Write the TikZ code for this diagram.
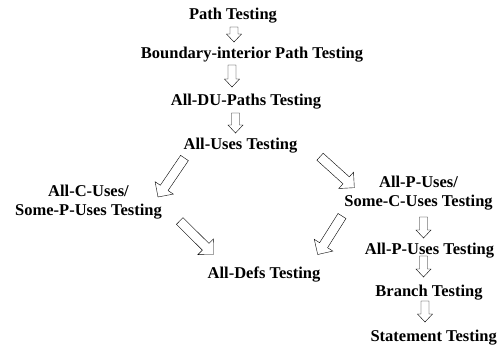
\documentclass[tikz,border=0pt]{standalone}
\usepackage{fontspec}
\setmainfont{Liberation Serif}
\usetikzlibrary{calc}
\tikzset{
  lbl/.style={font=\bfseries\fontsize{16.5}{19}\selectfont, inner sep=0pt, anchor=base, align=center},
  blockarrow/.style n args={3}{line width=0.9pt, line join=miter, to path={
    ($(\tikztostart)!#1!90:(\tikztotarget)$)
    -- ($(\tikztotarget)!#3!(\tikztostart)!#1!-90:(\tikztostart)$)
    -- ($(\tikztotarget)!#3!(\tikztostart)!#2!-90:(\tikztostart)$)
    -- (\tikztotarget)
    -- ($(\tikztotarget)!#3!(\tikztostart)!#2!90:(\tikztostart)$)
    -- ($(\tikztotarget)!#3!(\tikztostart)!#1!90:(\tikztostart)$)
    -- ($(\tikztostart)!#1!-90:(\tikztotarget)$)
    -- cycle}},
  vblock/.style={blockarrow={4pt}{7.5pt}{8pt}},
  dblock/.style={blockarrow={4.7pt}{11pt}{11pt}}
}
\begin{document}
\begin{tikzpicture}[x=1pt,y=-1pt]
\useasboundingbox (0,0) rectangle (500,349);
% labels
\node[lbl] (pt)  at (233,19)    {Path Testing};
\node[lbl] (bip) at (252,58)    {Boundary-interior Path Testing};
\node[lbl] (du)  at (246,105)   {All-DU-Paths Testing};
\node[lbl] (au)  at (240.5,149) {All-Uses Testing};
\node[lbl] (acu) at (88.5,215)  {All-C-Uses/\\Some-P-Uses Testing};
\node[lbl] (apc) at (418.5,206) {All-P-Uses/\\Some-C-Uses Testing};
\node[lbl] (ad)  at (264,278.3) {All-Defs Testing};
\node[lbl] (apu) at (429.5,254) {All-P-Uses Testing};
\node[lbl] (br)  at (429,296.7) {Branch Testing};
\node[lbl] (st)  at (433.7,341) {Statement Testing};
% arrow end points
\coordinate (a1s) at (234,27);    \coordinate (a1e) at (234,42);
\coordinate (a2s) at (232,65);    \coordinate (a2e) at (232,87);
\coordinate (a3s) at (235.5,113); \coordinate (a3e) at (235.5,133);
\coordinate (l1s) at (184.5,158); \coordinate (l1e) at (158,197);
\coordinate (r1s) at (320,156.7); \coordinate (r1e) at (354.3,187.7);
\coordinate (l2s) at (179.7,221); \coordinate (l2e) at (213.5,254.5);
\coordinate (r2s) at (342,216);   \coordinate (r2e) at (317.7,254.5);
\coordinate (b1s) at (423.5,217); \coordinate (b1e) at (423.5,238);
\coordinate (b2s) at (423.5,256); \coordinate (b2e) at (423.5,277);
\coordinate (b3s) at (425,301);   \coordinate (b3e) at (425,322);
% block arrows
\draw (a1s) to[vblock] (a1e);
\draw (a2s) to[vblock] (a2e);
\draw (a3s) to[vblock] (a3e);
\draw (l1s) to[dblock] (l1e);
\draw (r1s) to[dblock] (r1e);
\draw (l2s) to[dblock] (l2e);
\draw (r2s) to[dblock] (r2e);
\draw (b1s) to[vblock] (b1e);
\draw (b2s) to[vblock] (b2e);
\draw (b3s) to[vblock] (b3e);
\end{tikzpicture}
\end{document}
